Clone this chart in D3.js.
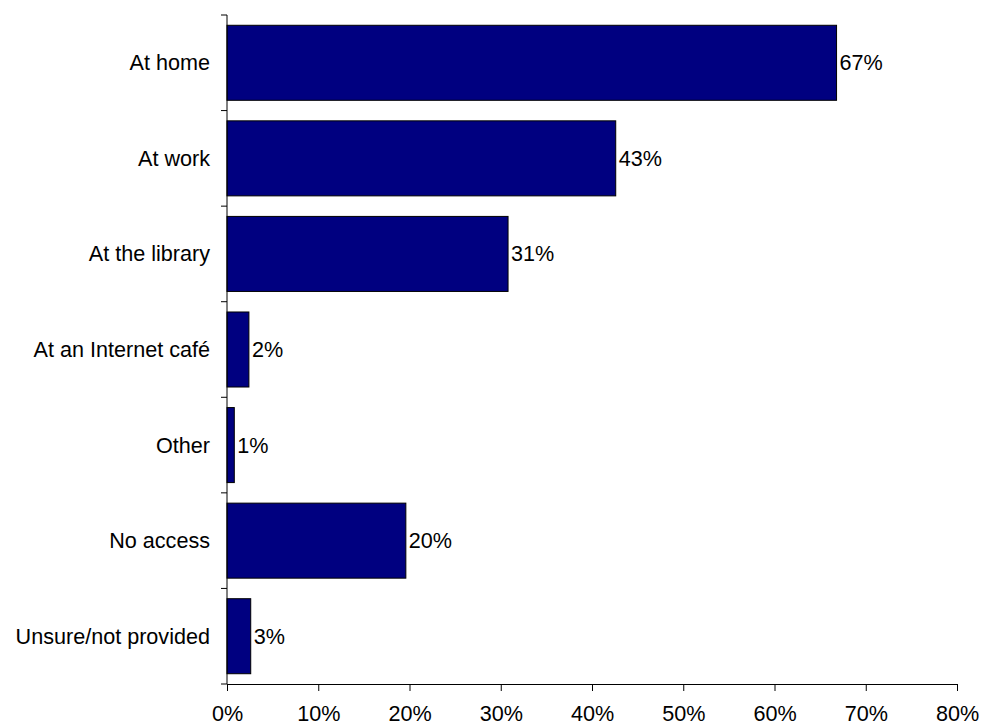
<!DOCTYPE html>
<html>
<head>
<meta charset="utf-8">
<script src="https://cdn.jsdelivr.net/npm/d3@7"></script>
<style>
  html, body { margin: 0; padding: 0; background: #fff; }
  svg text { font-family: "Liberation Sans", Arial, sans-serif; fill: #000; }
</style>
</head>
<body>
<svg id="chart" width="983" height="726"></svg>
<script>
// Where respondents access the Internet (share of respondents)
const categories = ["At home", "At work", "At the library", "At an Internet café", "Other", "No access", "Unsure/not provided"];
const shares = [0.668, 0.426, 0.308, 0.024, 0.008, 0.196, 0.026];
const xTicks = [0, 0.1, 0.2, 0.3, 0.4, 0.5, 0.6, 0.7, 0.8];

const data = categories.map((c, i) => ({ category: c, value: shares[i] }));

const margin = { top: 15, right: 26, bottom: 42, left: 227 };
const width = 983, height = 726;
const innerW = width - margin.left - margin.right;
const innerH = height - margin.top - margin.bottom;

const svg = d3.select("#chart");
const g = svg.append("g").attr("transform", `translate(${margin.left},${margin.top})`);

const x = d3.scaleLinear().domain([0, 0.8]).range([0, innerW]);
const y = d3.scaleBand().domain(categories).range([0, innerH])
  .paddingInner(0.215).paddingOuter(0.1075);

const pct = d3.format(".0%");
const fontSize = 21.6;

// bars
g.selectAll("rect.bar").data(data).join("rect")
  .attr("class", "bar")
  .attr("x", 0)
  .attr("y", d => y(d.category))
  .attr("width", d => x(d.value))
  .attr("height", y.bandwidth())
  .attr("fill", "#000080")
  .attr("stroke", "#000")
  .attr("stroke-width", 1);

// value labels
g.selectAll("text.val").data(data).join("text")
  .attr("class", "val")
  .attr("x", d => x(d.value) + 3)
  .attr("y", d => y(d.category) + y.bandwidth() / 2)
  .attr("dy", "0.35em")
  .style("font-size", fontSize + "px")
  .text(d => pct(d.value));

// x axis
const xAxis = g.append("g")
  .attr("transform", `translate(0,${innerH})`)
  .call(d3.axisBottom(x).tickValues(xTicks).tickFormat(pct).tickSize(7).tickPadding(15));
xAxis.selectAll("text").style("font-size", fontSize + "px").attr("fill", "#000");
xAxis.select(".domain").attr("stroke", "#000");
xAxis.selectAll(".tick line").attr("stroke", "#000");

// y axis: line with ticks at band boundaries
const yAxis = g.append("g");
yAxis.append("line")
  .attr("x1", 0).attr("x2", 0)
  .attr("y1", 0).attr("y2", innerH)
  .attr("stroke", "#000");
yAxis.selectAll("line.tick").data(d3.range(categories.length + 1)).join("line")
  .attr("class", "tick")
  .attr("x1", -6).attr("x2", 0)
  .attr("y1", i => i * y.step())
  .attr("y2", i => i * y.step())
  .attr("stroke", "#000");

// category labels
yAxis.selectAll("text.cat").data(categories).join("text")
  .attr("class", "cat")
  .attr("x", -17)
  .attr("y", d => y(d) + y.bandwidth() / 2)
  .attr("dy", "0.35em")
  .attr("text-anchor", "end")
  .style("font-size", fontSize + "px")
  .text(d => d);
</script>
</body>
</html>
